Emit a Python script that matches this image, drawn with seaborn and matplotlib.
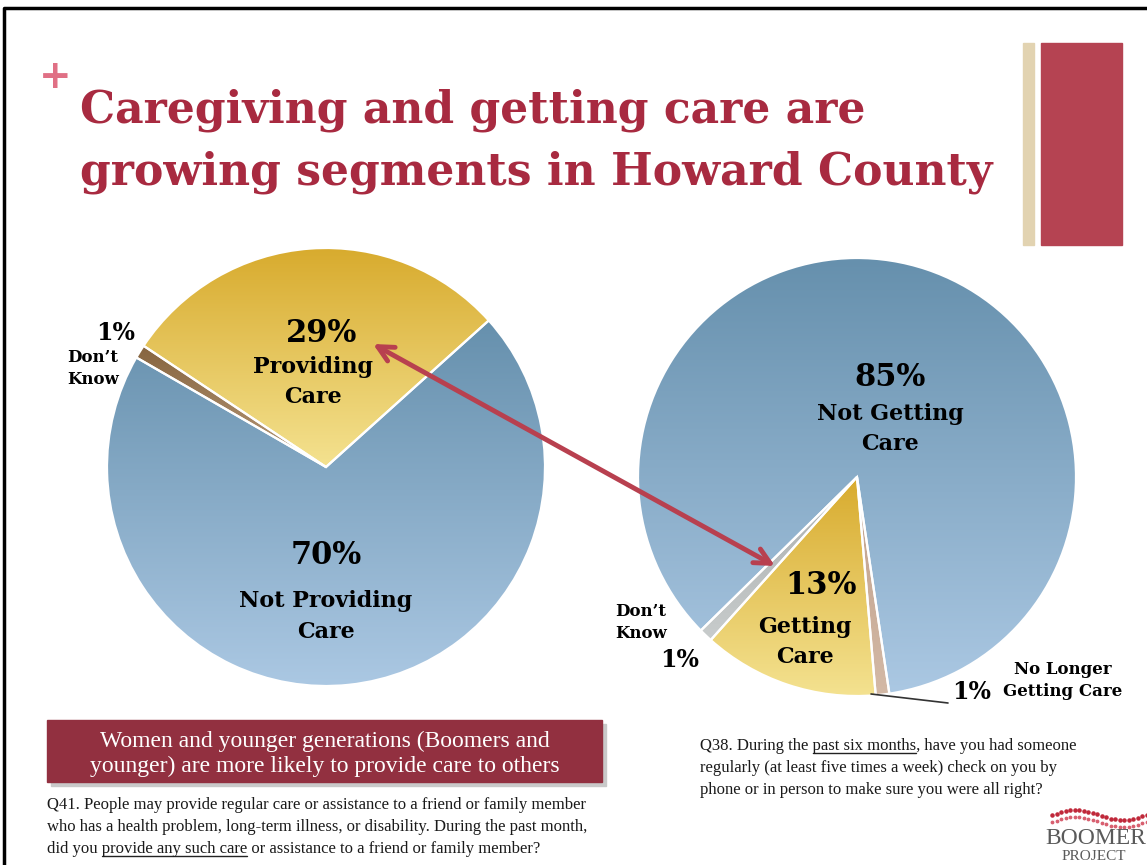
import numpy as np
import matplotlib.pyplot as plt
import seaborn as sns
from matplotlib.colors import LinearSegmentedColormap
from matplotlib.patches import Rectangle

W, H = 1147, 865

left_labels = ["Providing Care", "Don't Know", "Not Providing Care"]
left_values = [29, 1, 70]
right_labels = ["Don't Know", "Getting Care", "No Longer Getting Care", "Not Getting Care"]
right_values = [1, 13, 1, 85]

TITLE = ["Caregiving and getting care are", "growing segments in Howard County"]
BOX_TEXT = ["Women and younger generations (Boomers and",
            "younger) are more likely to provide care to others"]

CRIMSON = "#a82a40"
BLUE = ("#6690ad", "#abc8e3")
YELLOW = ("#d8ab2e", "#f4e290")
BROWN = ("#86643f", "#b99b7a")
GRAY = ("#a9adad", "#c8cccc")
TAN = ("#c0a08a", "#d3b9a6")


def Y(y):
    # image rows -> axes y (pointing up)
    return H - y


def gradient_pie(ax, values, colors, center, radius, startangle):
    wedges, _ = ax.pie(values, center=center, radius=radius, startangle=startangle,
                       counterclock=True,
                       wedgeprops=dict(edgecolor="white", linewidth=1.6))
    grad = np.linspace(0, 1, 256).reshape(-1, 1)
    for w, (top, bottom) in zip(wedges, colors):
        ext = w.get_path().get_extents()
        cmap = LinearSegmentedColormap.from_list("g", [bottom, top])
        im = ax.imshow(grad, cmap=cmap, origin="lower", aspect="auto",
                       extent=[ext.x0, ext.x1, ext.y0, ext.y1],
                       zorder=2, interpolation="bilinear")
        im.set_clip_path(w)
        w.set_facecolor("none")
        w.set_zorder(3)
    return wedges


def text_width(ax, s, **kw):
    t = ax.text(0, 0, s, **kw)
    r = ax.figure.canvas.get_renderer()
    wd = t.get_window_extent(renderer=r).width
    t.remove()
    return wd


def underlined_line(ax, x, y, before, under, after, **kw):
    ax.text(x, Y(y), before + under + after, ha="left", va="baseline", **kw)
    end = text_width(ax, before + under, **kw)
    start = end - text_width(ax, under, **kw)
    ax.plot([x + start, x + end], [Y(y) - 3, Y(y) - 3], color="#222222", lw=1.0, zorder=5)


sns.set_theme(style="white")
plt.rcParams["font.family"] = ["DejaVu Serif", "DejaVu Sans"]

fig = plt.figure(figsize=(W / 100, H / 100), dpi=100)
ax = fig.add_axes([0, 0, 1, 1])

gradient_pie(ax, left_values, [YELLOW, BROWN, BLUE], (326, Y(467)), 219, 42)
gradient_pie(ax, right_values, [GRAY, YELLOW, TAN, BLUE], (857, Y(477)), 219, 224.5)

ax.set_xlim(0, W)
ax.set_ylim(0, H)
ax.set_aspect("equal")
ax.axis("off")

# slide frame
ax.plot([1200, 4, 4], [Y(8), Y(8), Y(900)], color="black", lw=2.5, zorder=6, clip_on=False)

# title block
ax.text(55, Y(77), "+", color="#e07085", fontsize=28, fontweight="bold",
        fontfamily="DejaVu Sans", ha="center", va="center")
for i, line in enumerate(TITLE):
    ax.text(80, Y(110 + 62 * i), line, color=CRIMSON, fontsize=31.8, fontweight="bold",
            ha="left", va="center")
ax.add_patch(Rectangle((1023, Y(245)), 11, 202, color="#e2d3b1", zorder=4))
ax.add_patch(Rectangle((1041, Y(245)), 81, 202, color="#b54352", zorder=4))

bold = dict(fontweight="bold", color="black", ha="center", va="center", zorder=7)

# left pie labels
ax.text(322, Y(334), f"{left_values[0]}%", fontsize=22, **bold)
ax.text(313, Y(367), "Providing", fontsize=16, **bold)
ax.text(313, Y(397), "Care", fontsize=16, **bold)
ax.text(326, Y(556), f"{left_values[2]}%", fontsize=22, **bold)
ax.text(326, Y(601), "Not Providing", fontsize=16, **bold)
ax.text(326, Y(632), "Care", fontsize=16, **bold)
ax.text(116, Y(333), f"{left_values[1]}%", fontsize=17, **bold)
ax.text(93, Y(357), "Don’t", fontsize=12, **bold)
ax.text(93, Y(379), "Know", fontsize=12, **bold)

# right pie labels
ax.text(890, Y(378), f"{right_values[3]}%", fontsize=22, **bold)
ax.text(890, Y(414), "Not Getting", fontsize=16, **bold)
ax.text(890, Y(444), "Care", fontsize=16, **bold)
ax.text(821, Y(585), f"{right_values[1]}%", fontsize=22, **bold)
ax.text(805, Y(627), "Getting", fontsize=16, **bold)
ax.text(805, Y(657), "Care", fontsize=16, **bold)
ax.text(641, Y(611), "Don’t", fontsize=12, **bold)
ax.text(641, Y(633), "Know", fontsize=12, **bold)
ax.text(680, Y(660), f"{right_values[0]}%", fontsize=17, **bold)
ax.text(1063, Y(670), "No Longer", fontsize=12, **bold)
ax.text(1063, Y(691), "Getting Care", fontsize=12, **bold)
ax.text(972, Y(692), f"{right_values[2]}%", fontsize=17, **bold)
ax.plot([871, 948], [Y(694), Y(703)], color="#333333", lw=1.2, zorder=6)

# arrow linking the two segments
ax.annotate("", xy=(775, Y(566)), xytext=(373, Y(344)),
            arrowprops=dict(arrowstyle="<->", color="#b8404f", lw=3.5,
                            mutation_scale=28, shrinkA=0, shrinkB=0), zorder=8)

# callout box
ax.add_patch(Rectangle((51, Y(786)), 555, 62, color="#c9c9c9", zorder=4))
ax.add_patch(Rectangle((47, Y(782)), 555, 62, color="#923040", zorder=5))
for i, line in enumerate(BOX_TEXT):
    ax.text(325, Y(741 + 25 * i), line, color="white", fontsize=17,
            fontfamily="Liberation Serif", ha="center", va="center", zorder=6)

body = dict(fontsize=12, fontfamily="Liberation Serif", color="#1a1a1a", zorder=6)
ax.text(47, Y(809), "Q41. People may provide regular care or assistance to a friend or family member",
        ha="left", va="baseline", **body)
ax.text(47, Y(831), "who has a health problem, long-term illness, or disability. During the past month,",
        ha="left", va="baseline", **body)
underlined_line(ax, 47, 853, "did you ", "provide any such care",
                " or assistance to a friend or family member?", **body)

underlined_line(ax, 700, 750, "Q38. During the ", "past six months",
                ", have you had someone", **body)
ax.text(700, Y(772), "regularly (at least five times a week) check on you by",
        ha="left", va="baseline", **body)
ax.text(700, Y(794), "phone or in person to make sure you were all right?",
        ha="left", va="baseline", **body)

# logo
xs = np.linspace(1052, 1147, 22)
ax.scatter(xs, Y(815 - 5 * np.sin((xs - 1052) / 15)), s=5, color="#c0283a", zorder=6)
ax.scatter(xs, Y(822 - 5 * np.sin((xs - 1052) / 15)), s=3, color="#d86070", zorder=6)
ax.text(1045, Y(838), "BOOMER", fontsize=17, fontfamily="Liberation Serif",
        color="#5a5a5a", ha="left", va="center", zorder=6, clip_on=False)
ax.text(1062, Y(856), "PROJECT", fontsize=11, fontfamily="Liberation Serif",
        color="#5a5a5a", ha="left", va="center", zorder=6, clip_on=False)

fig.savefig("out.png", dpi=100)
